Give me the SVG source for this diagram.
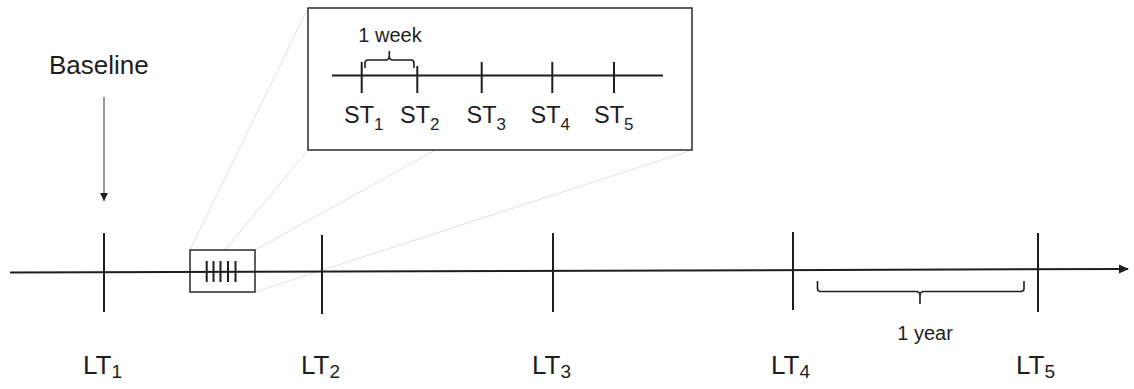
<svg xmlns="http://www.w3.org/2000/svg" width="1134" height="389" viewBox="0 0 1134 389">
<style>
text{font-family:"Liberation Sans",Arial,sans-serif;fill:#1e1e1e}
.lbl{font-size:26px}
.st{font-size:23.5px}
.sub{font-size:19px}
.ssub{font-size:17px}
.tick{stroke:#1e1e1e;stroke-width:2;fill:none}
.ax{stroke:#1e1e1e;stroke-width:2;fill:none}
.zoom{stroke:#e0e0e0;stroke-width:1;fill:none}
.box{stroke:#2a2a2a;stroke-width:1.5;fill:#fff}
.brace{stroke:#1e1e1e;stroke-width:1.6;fill:none}
</style>
<defs>
<marker id="ah" markerWidth="10" markerHeight="10" refX="9" refY="5" orient="auto" markerUnits="userSpaceOnUse">
<path d="M0,0.5 L10,5 L0,9.5 Z" fill="#1e1e1e"/>
</marker>
<marker id="ah2" markerWidth="10" markerHeight="10" refX="9" refY="5" orient="auto" markerUnits="userSpaceOnUse">
<path d="M1,1 L9,5 L1,9 Z" fill="#1e1e1e"/>
</marker>
</defs>
<rect width="1134" height="389" fill="#fff"/>
<g id="connectors">
<line class="zoom" x1="190" y1="250" x2="308" y2="8"/>
<line class="zoom" x1="255" y1="250" x2="692" y2="8"/>
<line class="zoom" x1="190" y1="292" x2="308" y2="150"/>
<line class="zoom" x1="255" y1="292" x2="692" y2="150"/>
<line x1="104" y1="97" x2="104" y2="201" stroke="#555" stroke-width="1.2" marker-end="url(#ah2)"/>
</g>
<g id="zoom-box">
<rect class="box" x="308" y="8" width="384" height="142"/>
<line class="ax" x1="332" y1="75.5" x2="663" y2="75.5"/>
<line class="tick" x1="361.7" y1="62" x2="361.7" y2="93"/>
<line class="tick" x1="417.3" y1="66" x2="417.3" y2="93"/>
<line class="tick" x1="481.7" y1="62" x2="481.7" y2="93"/>
<line class="tick" x1="552.3" y1="62" x2="552.3" y2="93"/>
<line class="tick" x1="614" y1="62" x2="614" y2="93"/>
<path class="brace" d="M365,68 L365,63 Q365,60 368,60 L386,60 Q389,60 389.3,56 L389.3,51 M389.3,56 Q389.6,60 392.6,60 L411,60 Q414,60 414,63 L414,68"/>
<text x="390" y="42" text-anchor="middle" style="font-size:20px">1 week</text>
<text class="st" x="344" y="123">ST<tspan class="ssub" dy="7">1</tspan></text>
<text class="st" x="400" y="123">ST<tspan class="ssub" dy="7">2</tspan></text>
<text class="st" x="466.5" y="123">ST<tspan class="ssub" dy="7">3</tspan></text>
<text class="st" x="530.5" y="123">ST<tspan class="ssub" dy="7">4</tspan></text>
<text class="st" x="594" y="123">ST<tspan class="ssub" dy="7">5</tspan></text>
</g>
<g id="small-box">
<rect class="box" x="190" y="250" width="65" height="42" stroke-width="1.3"/>
</g>
<g id="axis">
<line x1="10" y1="272.5" x2="1128" y2="269" class="ax" marker-end="url(#ah)"/>
</g>
<g id="small-ticks">
<line class="tick" x1="206.7" y1="261" x2="206.7" y2="282" stroke-width="2.2"/>
<line class="tick" x1="213.5" y1="261" x2="213.5" y2="282" stroke-width="2.2"/>
<line class="tick" x1="220.5" y1="261" x2="220.5" y2="282" stroke-width="2.2"/>
<line class="tick" x1="228" y1="261" x2="228" y2="282" stroke-width="2.2"/>
<line class="tick" x1="235.5" y1="261" x2="235.5" y2="282" stroke-width="2.2"/>
</g>
<g id="baseline">
<text class="lbl" x="49" y="74">Baseline</text>
</g>
<g id="LT1">
<line class="tick" x1="104" y1="233" x2="104" y2="312"/>
<text class="lbl" x="83" y="374">LT<tspan class="sub" dy="4">1</tspan></text>
</g>
<g id="LT2">
<line class="tick" x1="322" y1="235" x2="322" y2="314"/>
<text class="lbl" x="301" y="374">LT<tspan class="sub" dy="4">2</tspan></text>
</g>
<g id="LT3">
<line class="tick" x1="553" y1="233" x2="553" y2="312"/>
<text class="lbl" x="532" y="374">LT<tspan class="sub" dy="4">3</tspan></text>
</g>
<g id="LT4">
<line class="tick" x1="793" y1="232" x2="793" y2="310"/>
<text class="lbl" x="771" y="374">LT<tspan class="sub" dy="4">4</tspan></text>
</g>
<g id="LT5">
<line class="tick" x1="1038" y1="233" x2="1038" y2="312"/>
<text class="lbl" x="1016" y="374">LT<tspan class="sub" dy="4">5</tspan></text>
</g>
<g id="year-brace">
<path class="brace" d="M817.5,281 L817.5,288.5 Q817.5,291.5 820.5,291.5 L916,291.5 Q920,291.5 920,295.5 L920,304 M920,295.5 Q920,291.5 924,291.5 L1021,291.5 Q1024,291.5 1024,288.5 L1024,281"/>
<text x="925" y="340" text-anchor="middle" style="font-size:20px">1 year</text>
</g>
</svg>
